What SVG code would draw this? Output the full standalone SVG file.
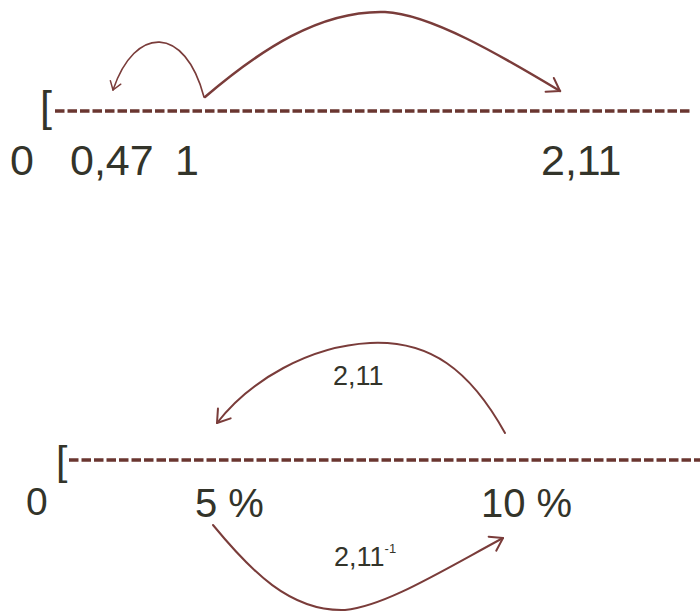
<svg xmlns="http://www.w3.org/2000/svg" width="700" height="612" viewBox="0 0 700 612">
<style>
.t{font-family:"Liberation Sans",Arial,sans-serif;fill:#33342a}
.dash{stroke:#6a3630;stroke-width:3.4;stroke-dasharray:9.5 3;fill:none}
.arc{fill:none;stroke:#7a3c3a;stroke-linecap:round}
</style>
<defs>
<marker id="ah" markerUnits="userSpaceOnUse" markerWidth="30" markerHeight="30" viewBox="-15 -15 30 30" refX="0" refY="0" orient="auto">
<path d="M-12,-8 L0,0 L-12,8" fill="none" stroke="#7a3c3a" stroke-width="2" stroke-linecap="round" stroke-linejoin="round"/>
</marker>
<marker id="ahs" markerUnits="userSpaceOnUse" markerWidth="30" markerHeight="30" viewBox="-15 -15 30 30" refX="0" refY="0" orient="auto">
<path d="M-8,-5.5 L0,0 L-8,5.5" fill="none" stroke="#7a3c3a" stroke-width="1.5" stroke-linecap="round" stroke-linejoin="round"/>
</marker>
</defs>
<g id="top-axis">
<text class="t" x="40" y="121" font-size="43">[</text>
<line class="dash" x1="55" y1="111" x2="690" y2="111"/>
</g>
<g id="top-labels">
<text class="t" x="10" y="175" font-size="43">0</text>
<text class="t" x="70" y="175" font-size="43">0,47</text>
<text class="t" x="175" y="175" font-size="43">1</text>
<text class="t" x="541" y="175" font-size="43">2,11</text>
</g>
<g id="bottom-axis">
<text class="t" x="56" y="475" font-size="41">[</text>
<line class="dash" x1="69" y1="460" x2="700" y2="460"/>
</g>
<g id="bottom-labels">
<text class="t" x="26" y="515" font-size="39">0</text>
<text class="t" x="195" y="517" font-size="40">5 %</text>
<text class="t" x="481" y="517" font-size="40">10 %</text>
<text class="t" x="333" y="385" font-size="27">2,11</text>
<text class="t" x="334" y="566" font-size="27">2,11<tspan font-size="13" dy="-13">-1</tspan></text>
</g>
<g id="connectors">
<path class="arc" stroke-width="1.6" d="M204,97 C185,25 135,25 113,90" marker-end="url(#ahs)"/>
<path class="arc" stroke-width="2.5" d="M205,97 C260,50 320,10 385,12 C430,14 500,55 560,91" marker-end="url(#ah)"/>
<path class="arc" stroke-width="2" d="M505,433 C470,370 430,340 370,343 C310,346 250,380 217,423" marker-end="url(#ah)"/>
<path class="arc" stroke-width="2" d="M213,525 C250,570 290,612 345,610 C385,606 440,572 503,538" marker-end="url(#ah)"/>
</g>
</svg>
